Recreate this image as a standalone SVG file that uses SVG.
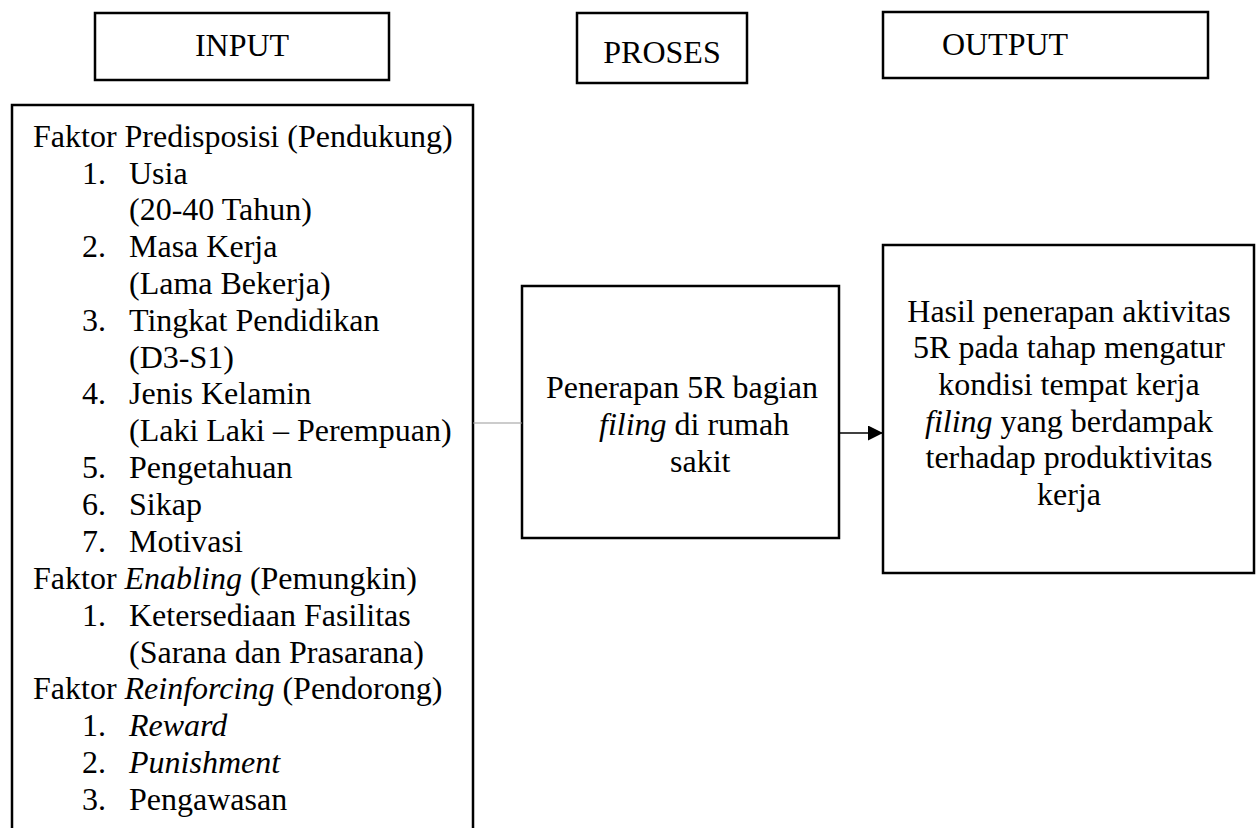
<svg xmlns="http://www.w3.org/2000/svg" width="1259" height="828" viewBox="0 0 1259 828" font-family="'Liberation Serif', 'Times New Roman', Times, serif">
<style>
.box{fill:#fff;stroke:#000;stroke-width:2.5}
text{font-family:'Liberation Serif', 'Times New Roman', Times, serif;font-size:32px;fill:#000}
.c{text-anchor:middle}
.i{font-style:italic}
</style>
<defs>
<marker id="ah" markerWidth="16" markerHeight="16" refX="15" refY="7.5" orient="auto" markerUnits="userSpaceOnUse">
<path d="M0,0 L15,7.5 L0,15 Z" fill="#000"/>
</marker>
</defs>
<rect width="1259" height="828" fill="#fff"/>
<g id="title-input"><rect class="box" x="95" y="13" width="294" height="67"/><text class="c" x="242" y="56">INPUT</text></g>
<g id="title-proses"><rect class="box" x="577" y="13" width="170" height="70"/><text class="c" x="662" y="63">PROSES</text></g>
<g id="title-output"><rect class="box" x="883" y="12" width="325" height="66"/><text class="c" x="1005" y="55">OUTPUT</text></g>
<g id="input">
<rect class="box" x="12" y="105" width="461" height="740"/>
<text x="33" y="147">Faktor Predisposisi (Pendukung)</text>
<text x="82" y="184">1.</text><text x="129" y="184">Usia</text>
<text x="129" y="220">(20-40 Tahun)</text>
<text x="82" y="257">2.</text><text x="129" y="257">Masa Kerja</text>
<text x="129" y="294">(Lama Bekerja)</text>
<text x="82" y="331">3.</text><text x="129" y="331">Tingkat Pendidikan</text>
<text x="129" y="368">(D3-S1)</text>
<text x="82" y="404">4.</text><text x="129" y="404">Jenis Kelamin</text>
<text x="129" y="441">(Laki Laki – Perempuan)</text>
<text x="82" y="478">5.</text><text x="129" y="478">Pengetahuan</text>
<text x="82" y="515">6.</text><text x="129" y="515">Sikap</text>
<text x="82" y="552">7.</text><text x="129" y="552">Motivasi</text>
<text x="33" y="589">Faktor <tspan class="i">Enabling</tspan> (Pemungkin)</text>
<text x="82" y="626">1.</text><text x="129" y="626">Ketersediaan Fasilitas</text>
<text x="129" y="663">(Sarana dan Prasarana)</text>
<text x="33" y="699">Faktor <tspan class="i">Reinforcing</tspan> (Pendorong)</text>
<text x="82" y="736">1.</text><text x="129" y="736" class="i">Reward</text>
<text x="82" y="773">2.</text><text x="129" y="773" class="i">Punishment</text>
<text x="82" y="810">3.</text><text x="129" y="810">Pengawasan</text>
</g>
<g id="proses">
<rect class="box" x="522" y="286" width="317" height="252"/>
<text x="546" y="398">Penerapan 5R bagian</text>
<text x="599" y="435"><tspan class="i">filing</tspan> di rumah</text>
<text x="670" y="472">sakit</text>
</g>
<g id="output">
<rect class="box" x="883" y="245" width="371" height="328"/>
<text class="c" x="1069" y="322">Hasil penerapan aktivitas</text>
<text class="c" x="1069" y="358">5R pada tahap mengatur</text>
<text class="c" x="1069" y="395">kondisi tempat kerja</text>
<text class="c" x="1069" y="432"><tspan class="i">filing</tspan> yang berdampak</text>
<text class="c" x="1069" y="468">terhadap produktivitas</text>
<text class="c" x="1069" y="505">kerja</text>
</g>
<g id="connectors">
<line x1="473" y1="423" x2="522" y2="423" stroke="#999" stroke-width="1"/>
<line x1="839" y1="433" x2="883" y2="433" stroke="#000" stroke-width="1.5" marker-end="url(#ah)"/>
</g>
</svg>
